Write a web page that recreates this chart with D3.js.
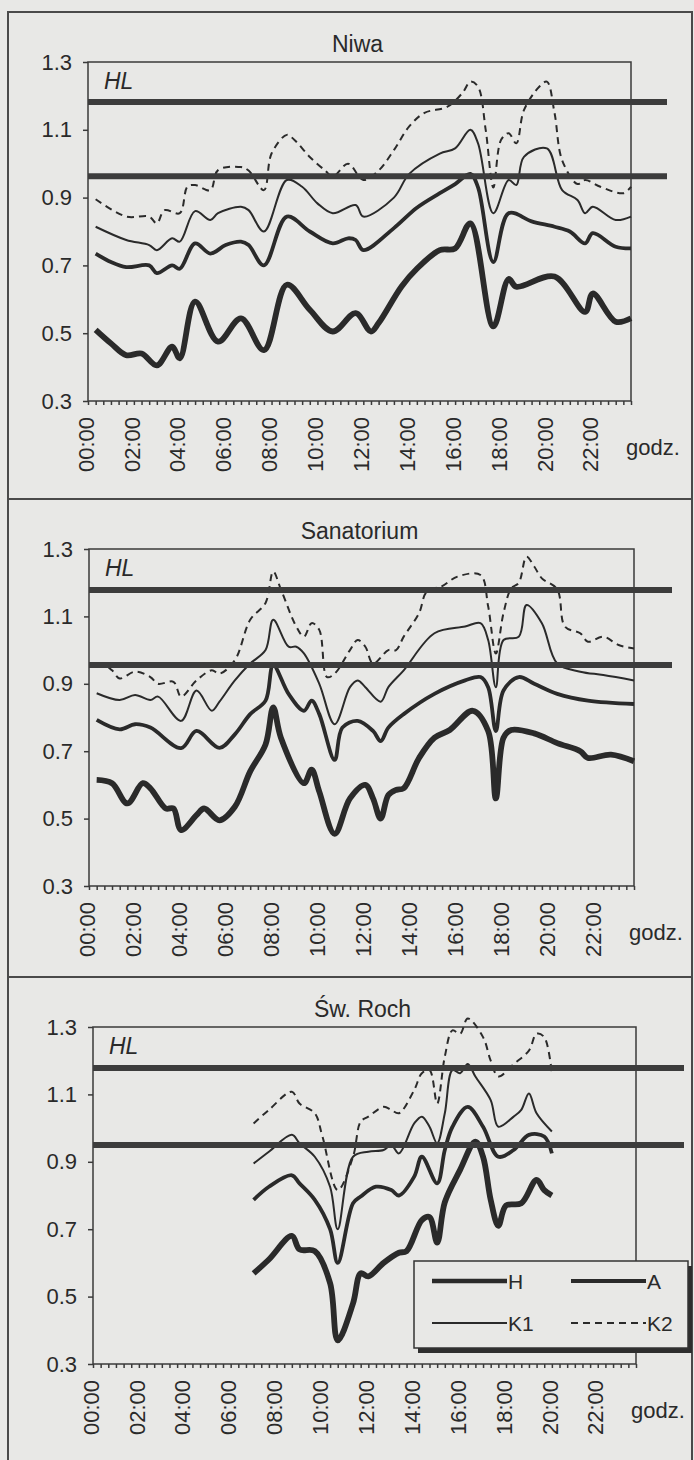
<!DOCTYPE html>
<html>
<head>
<meta charset="utf-8">
<script src="https://cdn.jsdelivr.net/npm/d3@7"></script>
<style>
  body { margin: 0; background: #e8e8e6; }
  svg { display: block; font-family: Arial, "Liberation Sans", sans-serif; }
</style>
</head>
<body>
<div id="chart"></div>
<script>
// ---- data (time of day, value) ----
const yTicks = [0.3, 0.5, 0.7, 0.9, 1.1, 1.3];
const xLabels = ["00:00","02:00","04:00","06:00","08:00","10:00","12:00","14:00","16:00","18:00","20:00","22:00"];
const seriesNames = ["H", "A", "K1", "K2"];
const titles = ["Niwa", "Sanatorium", "Św. Roch"];

// HL reference levels per panel
const hlNiwa = [1.182, 0.963];
const hlSan  = [1.178, 0.956];
const hlRoch = [1.178, 0.950];

const niwaH = [["00:20",0.51],["01:00",0.47],["01:40",0.435],["02:20",0.44],["03:00",0.405],["03:40",0.46],["04:00",0.426],
  ["04:40",0.593],["05:40",0.475],["06:40",0.544],["07:40",0.45],["08:40",0.643],["09:40",0.569],["10:40",0.505],
  ["11:40",0.559],["12:20",0.505],["12:40",0.53],["13:40",0.638],["14:20",0.69],["15:20",0.745],["16:00",0.75],
  ["16:40",0.824],["17:40",0.52],["18:20",0.66],["18:40",0.637],["20:20",0.667],["21:40",0.563],["22:00",0.617],
  ["23:00",0.534],["23:40",0.544]];
const niwaA = [["00:20",0.735],["01:00",0.71],["01:40",0.695],["02:40",0.70],["03:00",0.677],["03:40",0.70],["04:00",0.69],
  ["04:40",0.765],["05:20",0.735],["06:00",0.76],["06:40",0.77],["07:00",0.76],["07:40",0.70],["08:40",0.844],
  ["09:40",0.80],["10:40",0.765],["11:20",0.78],["11:40",0.775],["12:00",0.745],["13:20",0.81],["14:20",0.87],
  ["15:20",0.913],["16:00",0.94],["16:40",0.97],["17:00",0.93],["17:40",0.71],["18:20",0.854],["19:20",0.83],
  ["20:20",0.814],["21:00",0.80],["21:40",0.765],["22:00",0.795],["23:00",0.755],["23:40",0.75]];
const niwaK1 = [["00:20",0.814],["01:40",0.775],["02:40",0.76],["03:00",0.745],["03:40",0.78],["04:00",0.77],["04:40",0.86],
  ["05:20",0.834],["05:40",0.854],["06:40",0.873],["07:00",0.863],["07:40",0.80],["08:40",0.952],["09:20",0.932],
  ["10:00",0.883],["10:40",0.854],["11:40",0.878],["12:00",0.844],["13:20",0.90],["14:00",0.97],["15:20",1.03],
  ["16:00",1.045],["16:40",1.10],["17:00",1.06],["17:40",0.854],["18:20",0.952],["18:40",0.937],["19:00",1.02],
  ["20:00",1.045],["20:40",0.922],["21:20",0.893],["21:40",0.854],["22:00",0.873],["23:00",0.834],["23:40",0.844]];
const niwaK2 = [["00:20",0.895],["01:40",0.844],["02:40",0.844],["03:00",0.824],["03:20",0.863],["04:00",0.854],["04:20",0.932],
  ["04:40",0.937],["05:20",0.922],["05:40",0.981],["06:40",0.99],["07:00",0.98],["07:40",0.922],["08:00",1.03],
  ["08:40",1.085],["09:00",1.07],["09:40",1.02],["10:20",0.98],["10:40",0.962],["11:20",1.0],["12:00",0.952],
  ["12:40",0.98],["13:20",1.04],["14:00",1.11],["14:40",1.15],["15:40",1.168],["16:20",1.21],["16:40",1.242],
  ["17:00",1.227],["17:20",1.10],["17:40",0.93],["18:00",1.07],["18:20",1.09],["18:40",1.06],["19:00",1.158],
  ["19:40",1.227],["20:00",1.242],["20:20",1.15],["20:40",1.01],["21:20",0.94],["21:40",0.952],["22:20",0.932],
  ["23:20",0.913],["23:40",0.932]];

const sanH = [["00:20",0.615],["01:00",0.605],["01:40",0.545],["02:20",0.605],["02:40",0.59],["03:20",0.53],["03:40",0.53],
  ["04:00",0.466],["04:40",0.51],["05:00",0.53],["05:40",0.495],["06:20",0.535],["07:00",0.64],["07:40",0.72],
  ["08:00",0.83],["08:20",0.74],["09:20",0.605],["09:40",0.645],["10:00",0.58],["10:40",0.455],["11:20",0.56],
  ["12:00",0.60],["12:20",0.56],["12:40",0.50],["13:00",0.57],["13:20",0.585],["13:40",0.59],["14:20",0.68],
  ["15:00",0.74],["15:40",0.763],["16:40",0.82],["17:20",0.76],["17:40",0.56],["18:00",0.74],["18:20",0.763],
  ["19:20",0.753],["20:20",0.724],["21:20",0.70],["21:40",0.68],["22:40",0.69],["23:40",0.67]];
const sanA = [["00:20",0.793],["01:20",0.765],["02:00",0.78],["02:40",0.77],["04:00",0.709],["04:40",0.76],["05:40",0.71],
  ["06:20",0.75],["07:00",0.81],["07:40",0.85],["08:00",0.955],["08:40",0.87],["09:20",0.82],["09:40",0.85],
  ["10:00",0.81],["10:40",0.674],["11:00",0.77],["11:40",0.79],["12:20",0.76],["12:40",0.73],["13:00",0.77],
  ["13:40",0.81],["15:00",0.87],["16:20",0.91],["17:00",0.92],["17:20",0.89],["17:40",0.76],["18:00",0.88],
  ["18:40",0.92],["19:20",0.90],["20:20",0.87],["21:40",0.85],["23:40",0.84]];
const sanK1 = [["00:20",0.872],["01:20",0.852],["02:00",0.867],["02:40",0.852],["03:00",0.862],["04:00",0.79],["04:40",0.88],
  ["05:20",0.82],["05:40",0.847],["06:20",0.91],["07:00",0.96],["07:40",1.0],["08:00",1.09],["08:40",1.01],
  ["09:00",1.01],["09:20",0.99],["10:00",0.90],["10:40",0.78],["11:20",0.89],["11:40",0.91],["12:00",0.89],
  ["12:40",0.847],["13:00",0.89],["13:40",0.94],["15:00",1.05],["16:20",1.07],["17:00",1.08],["17:20",1.03],
  ["17:40",0.89],["18:00",1.03],["18:40",1.04],["19:00",1.134],["19:40",1.08],["20:20",0.96],["21:20",0.936],
  ["22:20",0.926],["23:40",0.91]];
const sanK2 = [["00:20",0.95],["00:40",0.955],["01:00",0.94],["01:20",0.916],["02:00",0.936],["02:40",0.92],["03:00",0.90],
  ["03:40",0.906],["04:00",0.862],["04:40",0.91],["05:20",0.94],["05:40",0.93],["06:20",0.97],["07:00",1.09],
  ["07:40",1.14],["08:00",1.233],["08:20",1.18],["09:00",1.07],["09:20",1.04],["09:40",1.08],["10:00",1.06],
  ["10:20",0.92],["10:40",0.93],["11:20",1.0],["11:40",1.03],["12:00",1.01],["12:20",0.96],["13:00",1.0],
  ["13:20",1.0],["13:40",1.04],["14:20",1.11],["14:40",1.173],["15:20",1.19],["16:00",1.218],["17:00",1.223],
  ["17:20",1.13],["17:40",0.99],["18:00",1.11],["18:20",1.183],["18:40",1.2],["19:00",1.277],["19:20",1.248],
  ["19:40",1.213],["20:20",1.18],["20:40",1.07],["21:20",1.05],["21:40",1.025],["22:20",1.04],["23:00",1.015],
  ["23:40",1.005]];

const rochH = [["07:00",0.569],["07:40",0.61],["08:40",0.68],["09:00",0.64],["09:40",0.635],["10:20",0.54],["10:40",0.37],
  ["11:20",0.48],["11:40",0.569],["12:00",0.56],["12:40",0.60],["13:20",0.63],["13:40",0.635],["14:20",0.727],
  ["14:40",0.736],["15:00",0.66],["15:20",0.78],["16:00",0.876],["16:40",0.96],["17:00",0.915],["17:20",0.787],
  ["17:40",0.71],["18:00",0.77],["18:40",0.777],["19:20",0.846],["19:40",0.816],["20:00",0.80]];
const rochA = [["07:00",0.787],["07:40",0.826],["08:40",0.86],["09:00",0.836],["09:40",0.787],["10:20",0.70],["10:40",0.60],
  ["11:20",0.777],["11:40",0.797],["12:20",0.826],["13:00",0.816],["13:20",0.80],["14:00",0.856],["14:20",0.915],
  ["15:00",0.836],["15:20",0.935],["15:40",1.004],["16:20",1.063],["17:00",1.004],["17:40",0.915],["18:20",0.935],
  ["19:00",0.98],["19:40",0.975],["20:00",0.925]];
const rochK1 = [["07:00",0.895],["07:40",0.93],["08:40",0.98],["09:00",0.955],["09:40",0.915],["10:20",0.826],["10:40",0.70],
  ["11:20",0.915],["12:00",0.93],["12:40",0.935],["13:00",0.95],["13:20",0.925],["14:00",1.014],["14:20",1.034],
  ["14:40",1.004],["15:00",0.955],["15:20",1.044],["15:40",1.172],["16:00",1.163],["16:20",1.19],["16:40",1.153],
  ["17:20",1.083],["17:40",1.004],["18:20",1.034],["18:40",1.054],["19:00",1.103],["19:20",1.044],["20:00",0.99]];
const rochK2 = [["07:00",1.014],["07:40",1.054],["08:40",1.108],["09:00",1.073],["09:40",1.044],["10:00",0.975],["10:40",0.816],
  ["11:20",0.915],["11:40",1.019],["12:00",1.034],["12:40",1.063],["13:00",1.054],["13:20",1.044],["14:00",1.113],
  ["14:20",1.163],["14:40",1.172],["15:00",1.073],["15:20",1.212],["15:40",1.29],["16:00",1.28],["16:20",1.325],
  ["17:00",1.27],["17:20",1.2],["17:40",1.153],["18:20",1.19],["19:00",1.23],["19:20",1.28],["19:40",1.27],
  ["20:00",1.162]];

// ---- layout ----
const W = 694, H = 1460;
const ink = "#2a2a2a";
const styles = {
  H:  {w: 5.8, dash: null},
  A:  {w: 3.8, dash: null},
  K1: {w: 2.0, dash: null},
  K2: {w: 2.0, dash: "7,5"}
};

const panels = [
  {title: titles[0], data: {H: niwaH, A: niwaA, K1: niwaK1, K2: niwaK2}, hl: hlNiwa,
   left: 88, right: 631, top: 62, bottom: 401, hlEnd: 667},
  {title: titles[1], data: {H: sanH, A: sanA, K1: sanK1, K2: sanK2}, hl: hlSan,
   left: 89, right: 634, top: 549, bottom: 886, hlEnd: 672},
  {title: titles[2], data: {H: rochH, A: rochA, K1: rochK1, K2: rochK2}, hl: hlRoch,
   left: 93, right: 636, top: 1027, bottom: 1364, hlEnd: 684, legend: true}
];

const parseT = s => +s.slice(0, 2) + (+s.slice(3)) / 60;
const lastT = 23 + 40 / 60;
const minorTicks = d3.range(0, 72).map(i => i / 3);

const svg = d3.select("#chart").append("svg")
  .attr("width", W).attr("height", H);

svg.append("rect").attr("width", W).attr("height", H).attr("fill", "#e8e8e6");

// outer frame and panel separators
const frame = svg.append("g").attr("stroke", "#4a4a4a").attr("stroke-width", 2).attr("fill", "none");
frame.append("rect").attr("x", 8).attr("y", 12).attr("width", 684).attr("height", 1460);
[499, 977].forEach(yy => frame.append("line").attr("x1", 8).attr("x2", 692).attr("y1", yy).attr("y2", yy));

panels.forEach(p => {
  const g = svg.append("g");
  const x = d3.scaleLinear().domain([0, lastT]).range([p.left, p.right]);
  const y = d3.scaleLinear().domain([0.3, 1.3]).range([p.bottom, p.top]);

  // title
  g.append("text")
    .attr("x", (p.left + p.right) / 2 - 2).attr("y", p.top - 10)
    .attr("text-anchor", "middle").attr("font-size", 23).attr("fill", ink)
    .text(p.title);

  // plot frame
  g.append("rect")
    .attr("x", p.left).attr("y", p.top)
    .attr("width", p.right - p.left).attr("height", p.bottom - p.top)
    .attr("fill", "none").attr("stroke", "#3a3a3a").attr("stroke-width", 1.5);

  // y axis
  g.append("g")
    .attr("transform", `translate(${p.left},0)`)
    .call(d3.axisLeft(y).tickValues(yTicks).tickSize(5).tickPadding(11).tickFormat(d3.format(".1f")))
    .call(a => a.select(".domain").remove())
    .call(a => a.selectAll(".tick line").attr("stroke", "#3a3a3a").attr("stroke-width", 1.5))
    .call(a => a.selectAll("text").attr("font-size", 22).attr("fill", ink)
      .attr("font-family", "Arial, 'Liberation Sans', sans-serif"));

  // x axis: minor ticks every 20 min
  g.append("g")
    .attr("transform", `translate(0,${p.bottom})`)
    .call(d3.axisBottom(x).tickValues(minorTicks).tickSize(4).tickFormat(""))
    .call(a => a.select(".domain").remove())
    .call(a => a.selectAll(".tick line").attr("stroke", "#3a3a3a").attr("stroke-width", 1.5));

  // rotated time labels
  g.append("g").selectAll("text")
    .data(xLabels).enter().append("text")
    .attr("transform", d => `translate(${x(parseT(d)) - 2},${p.bottom + 16}) rotate(-90)`)
    .attr("text-anchor", "end").attr("dy", "0.35em")
    .attr("font-size", 22).attr("fill", ink)
    .text(d => d);

  g.append("text")
    .attr("x", p.right - 5).attr("y", p.bottom + 54)
    .attr("font-size", 22).attr("fill", ink)
    .text("godz.");

  // HL label
  g.append("text")
    .attr("x", p.left + 16).attr("y", p.top + 27)
    .attr("font-size", 23).attr("font-style", "italic").attr("fill", ink)
    .text("HL");

  // series
  const line = d3.line()
    .x(d => x(parseT(d[0])))
    .y(d => y(d[1]))
    .curve(d3.curveCatmullRom.alpha(0.5));

  seriesNames.slice().reverse().forEach(name => {
    g.append("path")
      .datum(p.data[name])
      .attr("d", line)
      .attr("fill", "none")
      .attr("stroke", ink)
      .attr("stroke-width", styles[name].w)
      .attr("stroke-linejoin", "round")
      .attr("stroke-dasharray", styles[name].dash);
  });

  // HL reference lines
  g.append("g").selectAll("line")
    .data(p.hl).enter().append("line")
    .attr("x1", p.left).attr("x2", p.hlEnd)
    .attr("y1", d => y(d)).attr("y2", d => y(d))
    .attr("stroke", "#3c3c3c").attr("stroke-width", 6);

  // legend
  if (p.legend) {
    const lg = g.append("g").attr("transform", "translate(414,1261)");
    lg.append("rect").attr("x", 4).attr("y", 5).attr("width", 274).attr("height", 87).attr("fill", "#2e2e2e");
    lg.append("rect").attr("width", 274).attr("height", 87)
      .attr("fill", "#e8e8e6").attr("stroke", "#333").attr("stroke-width", 1.5);
    const items = [
      {name: "H", cx: 18, cy: 20}, {name: "A", cx: 157, cy: 20},
      {name: "K1", cx: 18, cy: 62}, {name: "K2", cx: 157, cy: 62}
    ];
    items.forEach(it => {
      lg.append("line")
        .attr("x1", it.cx).attr("x2", it.cx + 75)
        .attr("y1", it.cy).attr("y2", it.cy)
        .attr("stroke", ink).attr("stroke-width", Math.min(styles[it.name].w, 4.5))
        .attr("stroke-dasharray", styles[it.name].dash);
      lg.append("text")
        .attr("x", it.cx + 76).attr("y", it.cy + 8)
        .attr("font-size", 21).attr("fill", ink)
        .text(it.name);
    });
  }
});
</script>
</body>
</html>
